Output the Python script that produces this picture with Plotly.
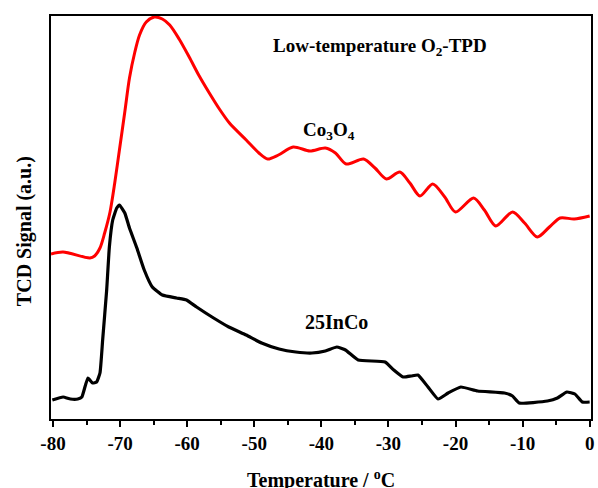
import plotly.graph_objects as go

# Co3O4 (red) — temperature (°C) and TCD signal (a.u.)
co3o4_temp = [-80.3, -78.5, -74.5, -73.8, -73.0, -72.3, -71.5, -70.8, -70.1, -69.3, -68.6,
              -67.8, -67.1, -66.1, -64.9, -63.7, -62.6, -61.2, -59.7, -58.2, -56.7, -55.2,
              -53.7, -51.2, -49.3, -48.0, -46.4, -44.2, -41.7, -39.4, -37.9, -36.3, -33.7,
              -32.0, -30.3, -28.3, -26.8, -25.3, -23.4, -21.6, -20.0, -17.3, -15.7, -14.0,
              -11.5, -9.7, -7.8, -6.0, -4.4, -2.3, 0.0]
co3o4_signal = [165, 167, 161, 163, 171, 186, 207, 236, 269, 307, 341,
                367, 384, 397, 402, 400, 394, 380, 362, 343, 326, 310,
                296, 279, 266, 260, 264, 272, 268, 271, 266, 255, 260,
                251, 240, 247, 236, 223, 235, 222, 207, 221, 209, 193,
                207, 196, 182, 192, 201, 200, 203]

# 25InCo (black)
inco_temp = [-80.1, -78.5, -77.4, -76.3, -75.7, -74.8, -74.1, -73.5, -73.0, -72.6, -72.0,
             -71.6, -71.1, -70.5, -70.1, -69.3, -68.6, -67.5, -66.4, -65.2, -63.7, -61.6,
             -60.1, -58.6, -56.3, -53.8, -51.2, -48.9, -46.3, -43.8, -41.4, -39.4, -37.7,
             -36.4, -34.5, -30.5, -29.2, -27.8, -26.6, -25.6, -24.1, -22.6, -21.1, -19.2,
             -16.7, -12.7, -11.5, -10.5, -6.3, -4.8, -3.4, -2.2, -1.1, 0.0]
inco_signal = [19, 22, 20, 20, 22, 41, 36, 37, 46, 79, 129,
               172, 199, 211, 214, 206, 191, 171, 149, 132, 124, 121,
               119, 112, 102, 92, 84, 76, 70, 67, 66, 68, 72,
               69, 59, 57, 49, 42, 43, 44, 32, 20, 26, 32,
               28, 26, 23, 16, 18, 21, 27, 25, 17, 17]

x_ticks = [-80, -70, -60, -50, -40, -30, -20, -10, 0]

FONT = "Liberation Serif"

fig = go.Figure()
fig.add_trace(go.Scatter(x=co3o4_temp, y=co3o4_signal, mode="lines",
                         line=dict(color="#FF0000", width=3, shape="spline", smoothing=0.8),
                         showlegend=False))
fig.add_trace(go.Scatter(x=inco_temp, y=inco_signal, mode="lines",
                         line=dict(color="#000000", width=3.2, shape="spline", smoothing=0.4),
                         showlegend=False))

fig.update_layout(
    width=598, height=488,
    margin=dict(l=51, r=4, t=16, b=69),
    paper_bgcolor="white", plot_bgcolor="white",
    font=dict(family=FONT, size=19, color="black", weight="bold"),
    xaxis=dict(range=[-80.3, 0.2], tickmode="array", tickvals=x_ticks,
               ticktext=[str(v) for v in x_ticks],
               ticks="outside", ticklen=6, tickwidth=2, tickcolor="black",
               minor=dict(dtick=5, tick0=0, ticks="outside", ticklen=4, tickwidth=2, tickcolor="black"),
               showline=True, linewidth=2, linecolor="black", mirror=True,
               showgrid=False, zeroline=False,
               tickfont=dict(family=FONT, size=19, color="black", weight="bold")),
    yaxis=dict(range=[0, 403], showticklabels=False, ticks="",
               showline=True, linewidth=2, linecolor="black", mirror=True,
               showgrid=False, zeroline=False),
    annotations=[
        dict(text="Temperature / <sup>o</sup>C", xref="paper", yref="paper",
             x=0.5, y=(419 - 479) / 403, xanchor="center", yanchor="middle",
             showarrow=False, font=dict(family=FONT, size=20, weight="bold")),
        dict(text="TCD Signal (a.u.)", xref="paper", yref="paper", textangle=-90,
             x=(24 - 51) / 543, y=(419 - 231) / 403, xanchor="center", yanchor="middle",
             showarrow=False, font=dict(family=FONT, size=20, weight="bold")),
        dict(text="Low-temperature O<sub>2</sub>-TPD", xref="paper", yref="paper",
             x=(382 - 51) / 543, y=(419 - 47) / 403, xanchor="center", yanchor="middle",
             showarrow=False, font=dict(family=FONT, size=19, weight="bold")),
        dict(text="Co<sub>3</sub>O<sub>4</sub>", xref="paper", yref="paper",
             x=(331 - 51) / 543, y=(419 - 131) / 403, xanchor="center", yanchor="middle",
             showarrow=False, font=dict(family=FONT, size=19, weight="bold")),
        dict(text="25InCo", xref="paper", yref="paper",
             x=(338 - 51) / 543, y=(419 - 322) / 403, xanchor="center", yanchor="middle",
             showarrow=False, font=dict(family=FONT, size=20, weight="bold")),
    ],
)

fig.write_html("out.html")
